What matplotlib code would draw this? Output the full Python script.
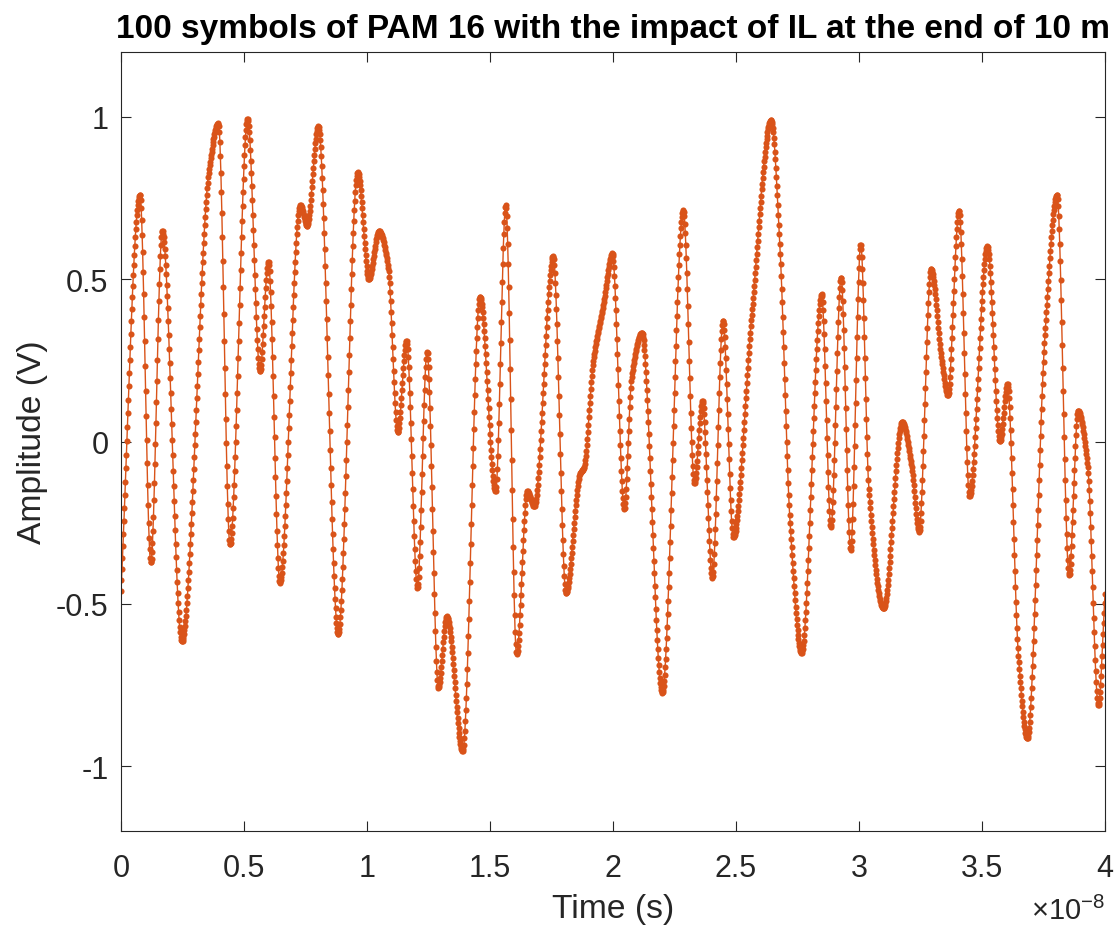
"""
plot.py
=========================
PAM16 waveform after insertion loss (10 m) — 100 symbols.
"""

import numpy as np
import matplotlib
matplotlib.use("Agg")
import matplotlib.pyplot as plt

# ==========================================
# DATA — waypoints
# (time in units of 1e-8 s, amplitude in V)
# ==========================================
T_SCALE = 1e-8

knot_t = [
    0.000, 0.077, 0.121, 0.168, 0.247, 0.359, 0.396, 0.443, 0.515, 0.565,
    0.599, 0.646, 0.728, 0.757, 0.802, 0.883, 0.962, 1.008, 1.049, 1.087,
    1.125, 1.161, 1.205, 1.244, 1.290, 1.324, 1.389, 1.459, 1.523, 1.564,
    1.608, 1.652, 1.680, 1.757, 1.809, 1.866, 1.882, 1.920, 1.960, 1.997,
    2.046, 2.076, 2.117, 2.200, 2.286, 2.331, 2.363, 2.404, 2.447, 2.489,
    2.564, 2.643, 2.679, 2.719, 2.767, 2.848, 2.886, 2.927, 2.966, 3.007,
    3.040, 3.099, 3.176, 3.214, 3.244, 3.293, 3.336, 3.361, 3.407, 3.449,
    3.522, 3.573, 3.603, 3.648, 3.684, 3.756, 3.805, 3.854, 3.891, 3.930,
    3.973, 4.000,
]
knot_v = [
    -0.46, 0.76, -0.373, 0.65, -0.616, 0.846, 0.98, -0.318, 0.995, 0.217,
    0.555, -0.435, 0.728, 0.665, 0.972, -0.593, 0.83, 0.50, 0.649, 0.53,
    0.028, 0.311, -0.451, 0.277, -0.758, -0.538, -0.954, 0.445, -0.153, 0.728,
    -0.656, -0.153, -0.20, 0.571, -0.467, -0.097, -0.082, 0.248, 0.42, 0.58,
    -0.208, 0.20, 0.335, -0.774, 0.712, -0.129, 0.126, -0.42, 0.371, -0.294,
    0.39, 0.99, 0.594, -0.239, -0.651, 0.453, -0.263, 0.505, -0.333, 0.607,
    -0.145, -0.514, 0.06, -0.08, -0.278, 0.531, 0.248, 0.142, 0.712, -0.168,
    0.602, 0.0, 0.178, -0.66, -0.915, 0.327, 0.76, -0.412, 0.094, -0.08,
    -0.813, -0.47,
]

x_ticks  = [0, 0.5, 1, 1.5, 2, 2.5, 3, 3.5, 4]
x_labels = ["0", "0.5", "1", "1.5", "2", "2.5", "3", "3.5", "4"]
y_ticks  = [-1, -0.5, 0, 0.5, 1]
y_labels = ["-1", "-0.5", "0", "0.5", "1"]

TITLE  = "100 symbols of PAM 16 with the impact of IL at the end of 10 m"
XLABEL = "Time (s)"
YLABEL = "Amplitude (V)"

# ==========================================
# STYLE
# ==========================================
LINE_COLOR = "#D95319"
AX_COLOR   = "#262626"
FONT       = "Liberation Sans"
FS_TICK    = 22
FS_LABEL   = 24.2
FS_TITLE   = 24
SAMPLES_PER_UNIT = 500     # scope sample rate on the 1e-8 s grid
DPI        = 100


def smooth_trace(xk, yk, xs):
    """Shape-preserving cubic through the read waypoints (for drawing)."""
    xk = np.asarray(xk, float)
    yk = np.asarray(yk, float)
    h = np.diff(xk)
    d = np.diff(yk) / h
    m = np.zeros_like(yk)
    for k in range(1, len(xk) - 1):
        if d[k - 1] * d[k] > 0:
            w1 = 2 * h[k] + h[k - 1]
            w2 = h[k] + 2 * h[k - 1]
            m[k] = (w1 + w2) / (w1 / d[k - 1] + w2 / d[k])
    m[0], m[-1] = d[0], d[-1]

    idx = np.clip(np.searchsorted(xk, xs) - 1, 0, len(h) - 1)
    s = (xs - xk[idx]) / h[idx]
    h00 = 2 * s**3 - 3 * s**2 + 1
    h10 = s**3 - 2 * s**2 + s
    h01 = -2 * s**3 + 3 * s**2
    h11 = s**3 - s**2
    return (h00 * yk[idx] + h10 * h[idx] * m[idx]
            + h01 * yk[idx + 1] + h11 * h[idx] * m[idx + 1])


def main():
    plt.rcParams["font.family"] = [FONT, "DejaVu Sans"]
    plt.rcParams["axes.unicode_minus"] = False
    plt.rcParams["mathtext.fontset"] = "custom"
    plt.rcParams["mathtext.rm"] = FONT
    plt.rcParams["mathtext.it"] = FONT

    n = int(round((knot_t[-1] - knot_t[0]) * SAMPLES_PER_UNIT)) + 1
    t_grid = np.linspace(knot_t[0], knot_t[-1], n)
    v_grid = smooth_trace(knot_t, knot_v, t_grid)

    fig = plt.figure(figsize=(1119 / DPI, 928 / DPI), dpi=DPI, facecolor="white")
    ax = fig.add_axes([121 / 1119, (928 - 832) / 928,
                       (1105 - 121) / 1119, (832 - 53) / 928])

    ax.plot(t_grid * T_SCALE, v_grid, color=LINE_COLOR, linewidth=1.0,
            marker="o", markersize=4.4, markeredgewidth=0)

    ax.set_xlim(0, 4 * T_SCALE)
    ax.set_ylim(-1.2, 1.2)
    ax.set_xticks([v * T_SCALE for v in x_ticks])
    ax.set_xticklabels(x_labels)
    ax.set_yticks(y_ticks)
    ax.set_yticklabels(y_labels)

    ax.tick_params(direction="in", length=7, width=0.8, colors=AX_COLOR,
                   labelsize=FS_TICK, top=True, right=True)
    ax.tick_params(axis="x", pad=16)
    ax.tick_params(axis="y", pad=9)
    for sp in ax.spines.values():
        sp.set_color(AX_COLOR)
        sp.set_linewidth(0.8)

    ax.set_xlabel(XLABEL, fontsize=FS_LABEL, color=AX_COLOR, labelpad=7)
    ax.set_ylabel(YLABEL, fontsize=FS_LABEL, color=AX_COLOR, labelpad=6)
    ax.set_title(TITLE, fontsize=FS_TITLE, fontweight="bold", pad=11)

    # exponent multiplier, bottom-right as in the MATLAB export
    fig.text(1105 / 1119, 2 / 928, r"$\times10^{-8}$",
             fontsize=21, color=AX_COLOR, ha="right", va="bottom")

    fig.savefig("out.png", dpi=DPI, facecolor="white")
    plt.close(fig)


if __name__ == "__main__":
    main()
